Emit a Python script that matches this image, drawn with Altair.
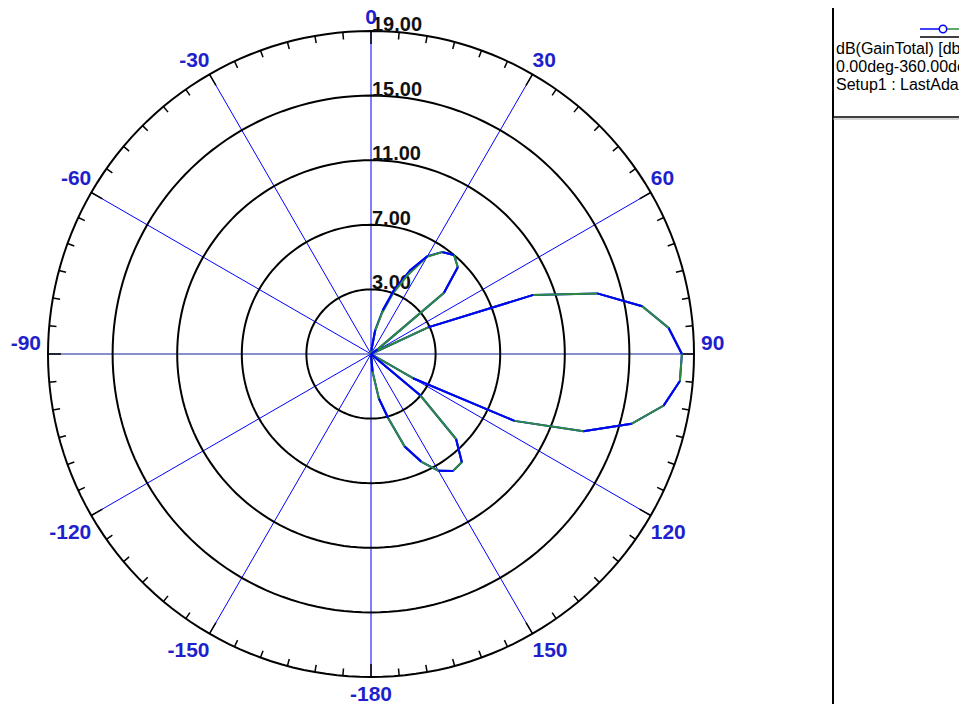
import altair as alt
import pandas as pd

# ---------------- data ----------------
R_MIN = -1.0          # radial value at the centre of the plot
R_MAX = 19.0          # radial value of the outer ring

trace_angles = [0, 5, 10, 15, 20, 25, 30, 35, 40, 45, 50, 55, 60, 65, 70, 75, 80, 85,
                90, 95, 100, 105, 110, 115, 120, 125, 130, 135, 140, 145, 150, 155, 160, 165,
                170, 175, 180, 185, 190, 195, 200, 205, 210, 215, 220, 225, 230, 235, 240, 245,
                250, 255, 260, 265, 270, 275, 280, 285, 290, 295, 300, 305, 310, 315, 320, 325,
                330, 335, 340, 345, 350, 355]

blue_gain = [-3.0, -0.8, 0.5, 1.8, 3.3, 4.7, 6.0, 6.7, 7.0, 6.6, 4.9, -0.5, -2.0, 2.9, 9.7, 13.5,
             16.05, 17.5, 18.25, 18.2, 17.4, 15.7, 13.0, 8.8, 2.0, -2.5, 3.0, 6.45, 7.75, 7.85,
             7.35, 6.35, 5.1, 3.1, 1.8, 0.1, -2.0, -4.0, -6.0, -8.0, -9.0, -10.0, -11.0, -10.0,
             -9.0, -8.0, -7.0, -6.0, -5.5, -5.0, -5.5, -6.0, -7.0, -8.0, -9.0, -8.0, -7.0, -6.0,
             -5.5, -5.0, -5.5, -6.0, -7.0, -8.0, -9.0, -8.0, -7.0, -6.0, -5.0, -4.5, -4.0, -3.5]

green_gain = [-3.0, -0.8, 0.4, 1.6, 3.0, 4.4, 5.95, 6.7, 7.0, 6.6, 4.9, -0.5, -2.0, 2.9, 9.7, 13.5,
              16.05, 17.5, 18.25, 18.2, 17.4, 15.7, 13.0, 8.8, 2.0, -2.5, 3.0, 6.45, 7.75, 7.85,
              7.35, 6.35, 5.1, 3.1, 1.8, 0.1, -2.0, -4.0, -6.0, -8.0, -9.0, -10.0, -11.0, -10.0,
              -9.0, -8.0, -7.0, -6.0, -5.5, -5.0, -5.5, -6.0, -7.0, -8.0, -9.0, -8.0, -7.0, -6.0,
              -5.5, -5.0, -5.5, -6.0, -7.0, -8.0, -9.0, -8.0, -7.0, -6.0, -5.0, -4.5, -4.0, -3.5]

ring_values = [3, 7, 11, 15, 19]
ring_labels = ["3.00", "7.00", "11.00", "15.00", "19.00"]

spoke_angles = [0, 30, 60, 90, 120, 150, 180, 210, 240, 270, 300, 330]
spoke_labels = ["0", "30", "60", "90", "120", "150", "-180", "-150", "-120", "-90", "-60", "-30"]

legend_text = ["dB(GainTotal) [db]", "0.00deg-360.00deg", "Setup1 : LastAdaptive"]

BLUE = "#0000ff"
GREEN = "#2b8a3e"
LABEL_BLUE = "#1f1fcc"
FONT = "Liberation Sans"
PX = 323 / 20.0       # pixels per radial unit (layout)

# ---------------- tables built from the arrays ----------------
blue_df = pd.DataFrame({"angle": trace_angles, "gain": blue_gain})
green_df = pd.DataFrame({"angle": trace_angles, "gain": green_gain})

# segments where the blue trace is drawn on top of the green one
seg_rows = []
for i, a in enumerate(trace_angles[:-1]):
    if a % 10 == 5:
        seg_rows.append({"seg": i, "angle": a, "gain": blue_gain[i]})
        seg_rows.append({"seg": i, "angle": trace_angles[i + 1], "gain": blue_gain[i + 1]})
blue_top_df = pd.DataFrame(seg_rows)

ring_rows = []
for rv in ring_values:
    for a in range(0, 361, 2):
        ring_rows.append({"ring": rv, "angle": a, "gain": rv})
ring_df = pd.DataFrame(ring_rows)

ring_label_df = pd.DataFrame({"gain": ring_values, "label": ring_labels, "angle": [0] * len(ring_values)})

spoke_df = pd.DataFrame({"angle": spoke_angles, "label": spoke_labels})
tick_df = pd.DataFrame({"angle": list(range(0, 360, 5))})

SPAN = R_MAX - R_MIN
xs = alt.Scale(domain=[-SPAN, SPAN], range=[40, 686], nice=False, zero=False)
ys = alt.Scale(domain=[-SPAN, SPAN], range=[669, 23], nice=False, zero=False)


def polar(chart, r_expr):
    return chart.transform_calculate(u=r_expr).transform_calculate(
        x="datum.u * sin(datum.angle * PI / 180)",
        y="datum.u * cos(datum.angle * PI / 180)",
    )


R_EXPR = f"max(datum.gain - ({R_MIN}), 0)"
X = alt.X("x:Q", scale=xs, axis=None)
Y = alt.Y("y:Q", scale=ys, axis=None)

# rings
rings = polar(alt.Chart(ring_df), R_EXPR).mark_line(color="black", strokeWidth=2).encode(
    x=X, y=Y, detail="ring:N", order="angle:Q")

# spokes
spoke_base = alt.Chart(spoke_df).transform_calculate(
    x0="0", y0="0",
    x1=f"{SPAN} * sin(datum.angle * PI / 180)",
    y1=f"{SPAN} * cos(datum.angle * PI / 180)",
)
spokes = spoke_base.transform_filter("datum.angle % 180 != 90").mark_rule(
    color=BLUE, strokeWidth=1).encode(
    x=alt.X("x0:Q", scale=xs, axis=None), y=alt.Y("y0:Q", scale=ys, axis=None),
    x2="x1:Q", y2="y1:Q")
hspokes = spoke_base.transform_filter("datum.angle % 180 == 90").mark_rule(
    color="#10209a", strokeWidth=1).encode(
    x=alt.X("x0:Q", scale=xs, axis=None), y=alt.Y("y0:Q", scale=ys, axis=None),
    x2="x1:Q", y2="y1:Q")

# ticks on outer ring
ticks = alt.Chart(tick_df).transform_calculate(
    rin=f"{SPAN} - (datum.angle % 30 == 0 ? 0.8 : 0.45)"
).transform_calculate(
    x0=f"{SPAN} * sin(datum.angle * PI / 180)",
    y0=f"{SPAN} * cos(datum.angle * PI / 180)",
    x1="datum.rin * sin(datum.angle * PI / 180)",
    y1="datum.rin * cos(datum.angle * PI / 180)",
).mark_rule(color="black", strokeWidth=1.5).encode(
    x=alt.X("x0:Q", scale=xs, axis=None), y=alt.Y("y0:Q", scale=ys, axis=None),
    x2="x1:Q", y2="y1:Q")

# angle labels: anchored at the outer ring, text placed outside of it
lab_base = alt.Chart(spoke_df).transform_calculate(
    s="sin(datum.angle * PI / 180)", c="cos(datum.angle * PI / 180)"
).transform_calculate(
    side="datum.s > 0.01 ? 'R' : (datum.s < -0.01 ? 'L' : 'C')",
    x=f"{SPAN} * datum.s + (abs(datum.s) > 0.99 ? (datum.s > 0 ? 7 : -7) / {PX} : 0)",
    y=f"{SPAN} * datum.c + (abs(datum.s) > 0.99 ? 4 / {PX} : (datum.c > 0 ? 7.5 / {PX} : -23.5 / {PX}))",
)


def angle_text(side, align):
    return lab_base.transform_filter(f"datum.side == '{side}'").mark_text(
        font=FONT, fontSize=21, fontWeight="bold", color=LABEL_BLUE, align=align,
        baseline="alphabetic"
    ).encode(x=X, y=Y, text="label:N")


angle_labels = [angle_text("R", "left"), angle_text("C", "center"), angle_text("L", "right")]

# ring labels
ring_text = polar(alt.Chart(ring_label_df), R_EXPR).mark_text(
    font=FONT, fontSize=20, fontWeight="bold", color="#111111", align="left", baseline="alphabetic", dx=1
).encode(x=X, y=Y, text="label:N")

# traces
blue_line = polar(alt.Chart(blue_df), R_EXPR).mark_line(color=BLUE, strokeWidth=2).encode(
    x=X, y=Y, order="angle:Q")
green_line = polar(alt.Chart(green_df), R_EXPR).mark_line(color=GREEN, strokeWidth=2).encode(
    x=X, y=Y, order="angle:Q")
blue_top = polar(alt.Chart(blue_top_df), R_EXPR).mark_line(color=BLUE, strokeWidth=2).encode(
    x=X, y=Y, detail="seg:N", order="angle:Q")

# legend box
one = pd.DataFrame({"k": [0]})
divider = alt.Chart(one).mark_rule(color="black", strokeWidth=2).encode(
    x=alt.value(825), y=alt.value(0), y2=alt.value(696))
box_bottom = alt.Chart(one).mark_rule(color="black", strokeWidth=1.5).encode(
    x=alt.value(825), x2=alt.value(960), y=alt.value(109))
box_bottom2 = alt.Chart(one).mark_rule(color="#aaaaaa", strokeWidth=1).encode(
    x=alt.value(825), x2=alt.value(960), y=alt.value(111))
leg_blue = alt.Chart(one).mark_rule(color=BLUE, strokeWidth=1.5).encode(
    x=alt.value(912), x2=alt.value(932), y=alt.value(21))
leg_green = alt.Chart(one).mark_rule(color=GREEN, strokeWidth=1.5).encode(
    x=alt.value(939), x2=alt.value(960), y=alt.value(21))
leg_under = alt.Chart(one).mark_rule(color="black", strokeWidth=1.5).encode(
    x=alt.value(912), x2=alt.value(960), y=alt.value(29))
leg_circle = alt.Chart(one).mark_point(shape="circle", size=55, filled=False, color=BLUE,
                                       strokeWidth=1.5, fill="white", fillOpacity=1).encode(
    x=alt.value(935), y=alt.value(21))

legend_df = pd.DataFrame({"line": legend_text, "row": list(range(len(legend_text)))})
leg_text = alt.Chart(legend_df).transform_calculate(
    py="46 + 18 * datum.row"
).mark_text(font=FONT, fontSize=16, color="black", align="left", baseline="alphabetic").encode(
    x=alt.value(828), y=alt.Y("py:Q", scale=None, axis=None), text="line:N")

chart = alt.layer(
    spokes, hspokes, rings, ticks, ring_text, *angle_labels,
    blue_line, green_line, blue_top,
    divider, box_bottom, box_bottom2, leg_blue, leg_green, leg_under, leg_circle, leg_text,
).properties(
    width=951, height=696, autosize=alt.AutoSizeParams(type="none"), padding=0,
    background="white",
).configure_view(strokeWidth=0)

chart.save("out.html", embed_options={"renderer": "svg", "actions": False})
